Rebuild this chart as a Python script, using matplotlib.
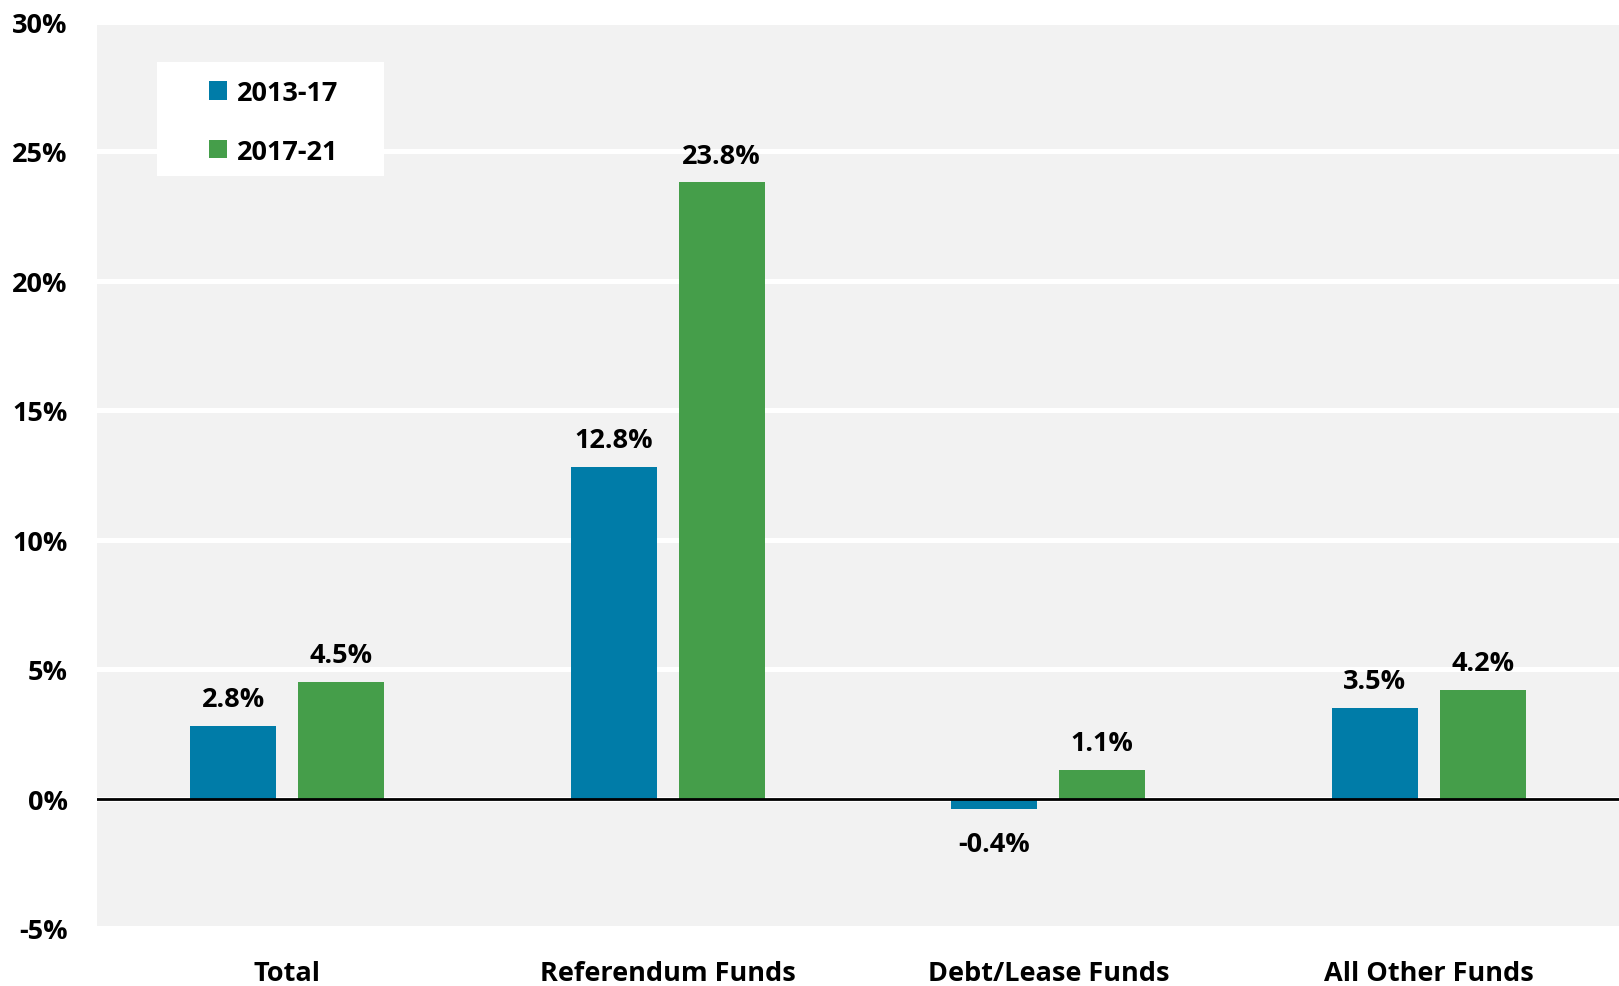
import matplotlib
matplotlib.use("Agg")
import matplotlib.pyplot as plt
from matplotlib.patches import Rectangle
from matplotlib.ticker import FuncFormatter
import numpy as np

categories = ["Total", "Referendum Funds", "Debt/Lease Funds", "All Other Funds"]
series_names = ["2013-17", "2017-21"]
growth_2013_17 = [2.8, 12.8, -0.4, 3.5]
growth_2017_21 = [4.5, 23.8, 1.1, 4.2]
y_ticks = [-5, 0, 5, 10, 15, 20, 25, 30]

BLUE = "#007CA8"
GREEN = "#459E4A"
BG = "#F2F2F2"
FS = 19.5

plt.rcParams["font.family"] = ["Open Sans", "DejaVu Sans"]
plt.rcParams["font.weight"] = "bold"

fig = plt.figure(figsize=(16.19, 9.87), dpi=100)
ax = fig.add_axes([97 / 1619, 58 / 987, 1522 / 1619, 906 / 987])
ax.set_facecolor(BG)

x = np.arange(len(categories)) + 0.5
width = 0.226
offset = 0.142

b1 = ax.bar(x - offset, growth_2013_17, width, color=BLUE, label=series_names[0], zorder=3)
b2 = ax.bar(x + offset, growth_2017_21, width, color=GREEN, label=series_names[1], zorder=3)

for bars, vals in ((b1, growth_2013_17), (b2, growth_2017_21)):
    for rect, v in zip(bars, vals):
        cx = rect.get_x() + rect.get_width() / 2
        if v >= 0:
            ax.annotate(f"{v:.1f}%", (cx, v), xytext=(0, 10), textcoords="offset points",
                        ha="center", va="bottom", fontsize=FS, fontweight="bold", zorder=5)
        else:
            ax.annotate(f"{v:.1f}%", (cx, v), xytext=(0, -16), textcoords="offset points",
                        ha="center", va="top", fontsize=FS, fontweight="bold", zorder=5)

ax.set_xlim(0, len(categories))
ax.set_ylim(-5, 30)
ax.set_yticks(y_ticks)
ax.yaxis.set_major_formatter(FuncFormatter(lambda v, _: f"{v:.0f}%"))
ax.set_xticks(x)
ax.set_xticklabels(categories)
ax.tick_params(axis="both", length=0, labelsize=FS)
ax.tick_params(axis="y", pad=21)
ax.tick_params(axis="x", pad=23)
for lbl in ax.get_xticklabels() + ax.get_yticklabels():
    lbl.set_fontweight("bold")

ax.grid(axis="y", color="white", linewidth=3.6, zorder=1)
ax.set_axisbelow(True)
for s in ax.spines.values():
    s.set_visible(False)
ax.axhline(0, color="black", linewidth=2, zorder=4)

# legend panel
ax.add_patch(Rectangle((60 / 1522, 1 - 154 / 906), 227 / 1522, 114 / 906,
                       transform=ax.transAxes, facecolor="white", edgecolor="none", zorder=4))
leg = ax.legend(loc="upper left", bbox_to_anchor=(112 / 1522, 1 - 58 / 906),
                frameon=False, fontsize=FS, handlelength=0.68, handleheight=0.68,
                handletextpad=0.35, labelspacing=1.2, borderpad=0, borderaxespad=0)
leg.set_zorder(6)
for t in leg.get_texts():
    t.set_fontweight("bold")

fig.savefig("out.png", dpi=100, facecolor="white")
